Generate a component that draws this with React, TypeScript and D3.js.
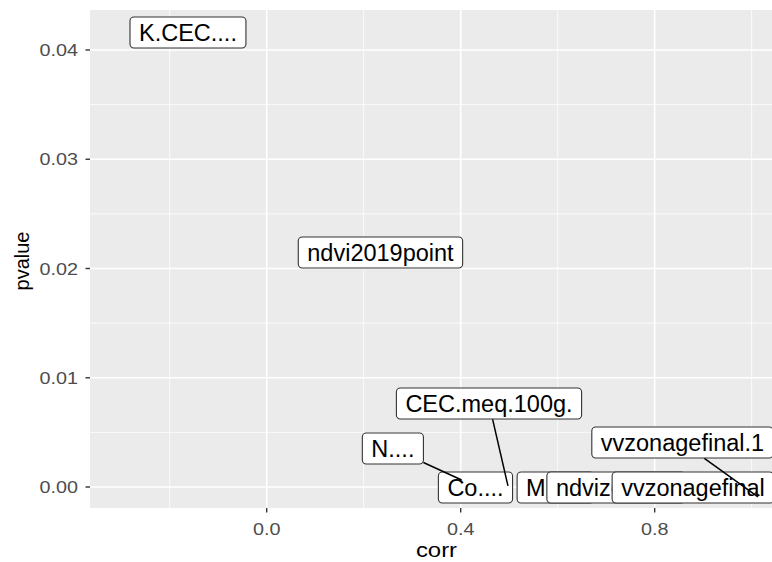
import React, { useEffect, useRef } from "react";
import * as d3 from "d3";

// label text, in the order ggrepel drew them (later ones sit on top)
const names = [
  "Co....",
  "Mn....",
  "ndvizone....",
  "vvzonagefinal",
  "N....",
  "CEC.meq.100g.",
  "vvzonagefinal.1",
  "K.CEC....",
  "ndvi2019point",
];
// data points
const corr = [0.4305, 0.5955, 0.7202, 0.879, 0.402, 0.4975, 1.013, -0.1623, 0.2346];
const pvalue = [-0.00005, -0.00005, -0.00005, -0.00005, 0.00064, 0.0001, -0.0009, 0.0416, 0.02146];
// where the repelled labels ended up (data units)
const labelCorr = [0.4305, 0.5955, 0.7202, 0.879, 0.2602, 0.4584, 0.8573, -0.1623, 0.2346];
const labelP = [-0.00005, -0.00005, -0.00005, -0.00005, 0.00352, 0.00764, 0.00407, 0.0416, 0.02146];

const xTicks = [0.0, 0.4, 0.8];
const xMinor = [-0.2, 0.2, 0.6, 1.0];
const yTicks = [0.0, 0.01, 0.02, 0.03, 0.04];
const yMinor = [0.005, 0.015, 0.025, 0.035];

export default function App() {
  const ref = useRef<SVGSVGElement>(null);

  useEffect(() => {
    const width = 772;
    const height = 562;
    const marginLeft = 90;
    const marginTop = 10;
    const panelRight = 783;
    const panelBottom = 508;
    const font = "'Liberation Sans', Arial, Helvetica, sans-serif";

    const x = d3.scaleLinear([-0.3643, 1.0646], [marginLeft, panelRight]);
    const y = d3.scaleLinear([-0.00192, 0.04366], [panelBottom, marginTop]);

    const svg = d3.select(ref.current);
    svg.selectAll("*").remove();
    svg.attr("width", width).attr("height", height);

    svg.append("rect").attr("width", width).attr("height", height).attr("fill", "white");

    // panel background
    svg
      .append("rect")
      .attr("x", marginLeft)
      .attr("y", marginTop)
      .attr("width", panelRight - marginLeft)
      .attr("height", panelBottom - marginTop)
      .attr("fill", "#EBEBEB");

    const grid = svg.append("g").attr("stroke", "white").attr("fill", "none");
    xMinor.forEach((v) =>
      grid.append("line").attr("x1", x(v)).attr("x2", x(v)).attr("y1", marginTop).attr("y2", panelBottom).attr("stroke-width", 0.8)
    );
    yMinor.forEach((v) =>
      grid.append("line").attr("y1", y(v)).attr("y2", y(v)).attr("x1", marginLeft).attr("x2", panelRight).attr("stroke-width", 0.8)
    );
    xTicks.forEach((v) =>
      grid.append("line").attr("x1", x(v)).attr("x2", x(v)).attr("y1", marginTop).attr("y2", panelBottom).attr("stroke-width", 1.6)
    );
    yTicks.forEach((v) =>
      grid.append("line").attr("y1", y(v)).attr("y2", y(v)).attr("x1", marginLeft).attr("x2", panelRight).attr("stroke-width", 1.6)
    );

    // stretched text helper (the reference font runs wide)
    const addText = (tx: number, ty: number, str: string, size: number, fill: string, anchor: string, sx = 1.2) =>
      svg
        .append("text")
        .attr("transform", `translate(${tx},${ty}) scale(${sx},1)`)
        .attr("text-anchor", anchor)
        .attr("font-family", font)
        .attr("font-size", size)
        .attr("fill", fill)
        .text(str);

    // axes ticks + labels
    xTicks.forEach((v) => {
      svg.append("line").attr("x1", x(v)).attr("x2", x(v)).attr("y1", panelBottom).attr("y2", panelBottom + 4.5).attr("stroke", "#333").attr("stroke-width", 1.4);
      addText(x(v), 535, d3.format(".1f")(v), 16.5, "#4D4D4D", "middle");
    });
    yTicks.forEach((v) => {
      svg.append("line").attr("x1", marginLeft - 4.5).attr("x2", marginLeft).attr("y1", y(v)).attr("y2", y(v)).attr("stroke", "#333").attr("stroke-width", 1.4);
      addText(marginLeft - 12, y(v) + 6, d3.format(".2f")(v), 16.5, "#4D4D4D", "end");
    });

    addText((marginLeft + panelRight) / 2, 557, "corr", 19.3, "black", "middle", 1.24);
    svg
      .append("text")
      .attr("transform", `translate(29,261) rotate(-90)`)
      .attr("text-anchor", "middle")
      .attr("font-family", font)
      .attr("font-size", 20)
      .attr("fill", "black")
      .text("pvalue");

    // repelled labels
    const labelSize = 23.5;
    const padX = 9;
    const boxH = 31;
    const panel = svg.append("g");

    names.forEach((name, i) => {
      const g = panel.append("g");
      const cx = x(labelCorr[i]);
      const cy = y(labelP[i]);
      const px = x(corr[i]);
      const py = y(pvalue[i]);

      const t = g
        .append("text")
        .attr("font-family", font)
        .attr("font-size", labelSize)
        .attr("text-anchor", "middle")
        .attr("x", cx)
        .attr("y", cy + labelSize * 0.35)
        .attr("fill", "black")
        .text(name);
      const tw = (t.node() as SVGTextElement).getComputedTextLength();
      const bw = tw + padX * 2;
      const left = cx - bw / 2;
      const top = cy - boxH / 2;

      const inside = px >= left && px <= left + bw && py >= top && py <= top + boxH;
      if (!inside) {
        // start the segment where the centre->point line leaves the box
        const dx = px - cx;
        const dy = py - cy;
        const s = Math.min(dx !== 0 ? bw / 2 / Math.abs(dx) : Infinity, dy !== 0 ? boxH / 2 / Math.abs(dy) : Infinity);
        g.insert("line", "text")
          .attr("x1", cx + dx * s)
          .attr("y1", cy + dy * s)
          .attr("x2", px)
          .attr("y2", py)
          .attr("stroke", "black")
          .attr("stroke-width", 1.5);
      }

      g.insert("rect", "text")
        .attr("x", left)
        .attr("y", top)
        .attr("width", bw)
        .attr("height", boxH)
        .attr("rx", 4)
        .attr("fill", "white")
        .attr("stroke", "#333")
        .attr("stroke-width", 1.1);
    });
  }, []);

  return <svg ref={ref} style={{ position: "absolute", left: 0, top: 0, display: "block" }} />;
}
